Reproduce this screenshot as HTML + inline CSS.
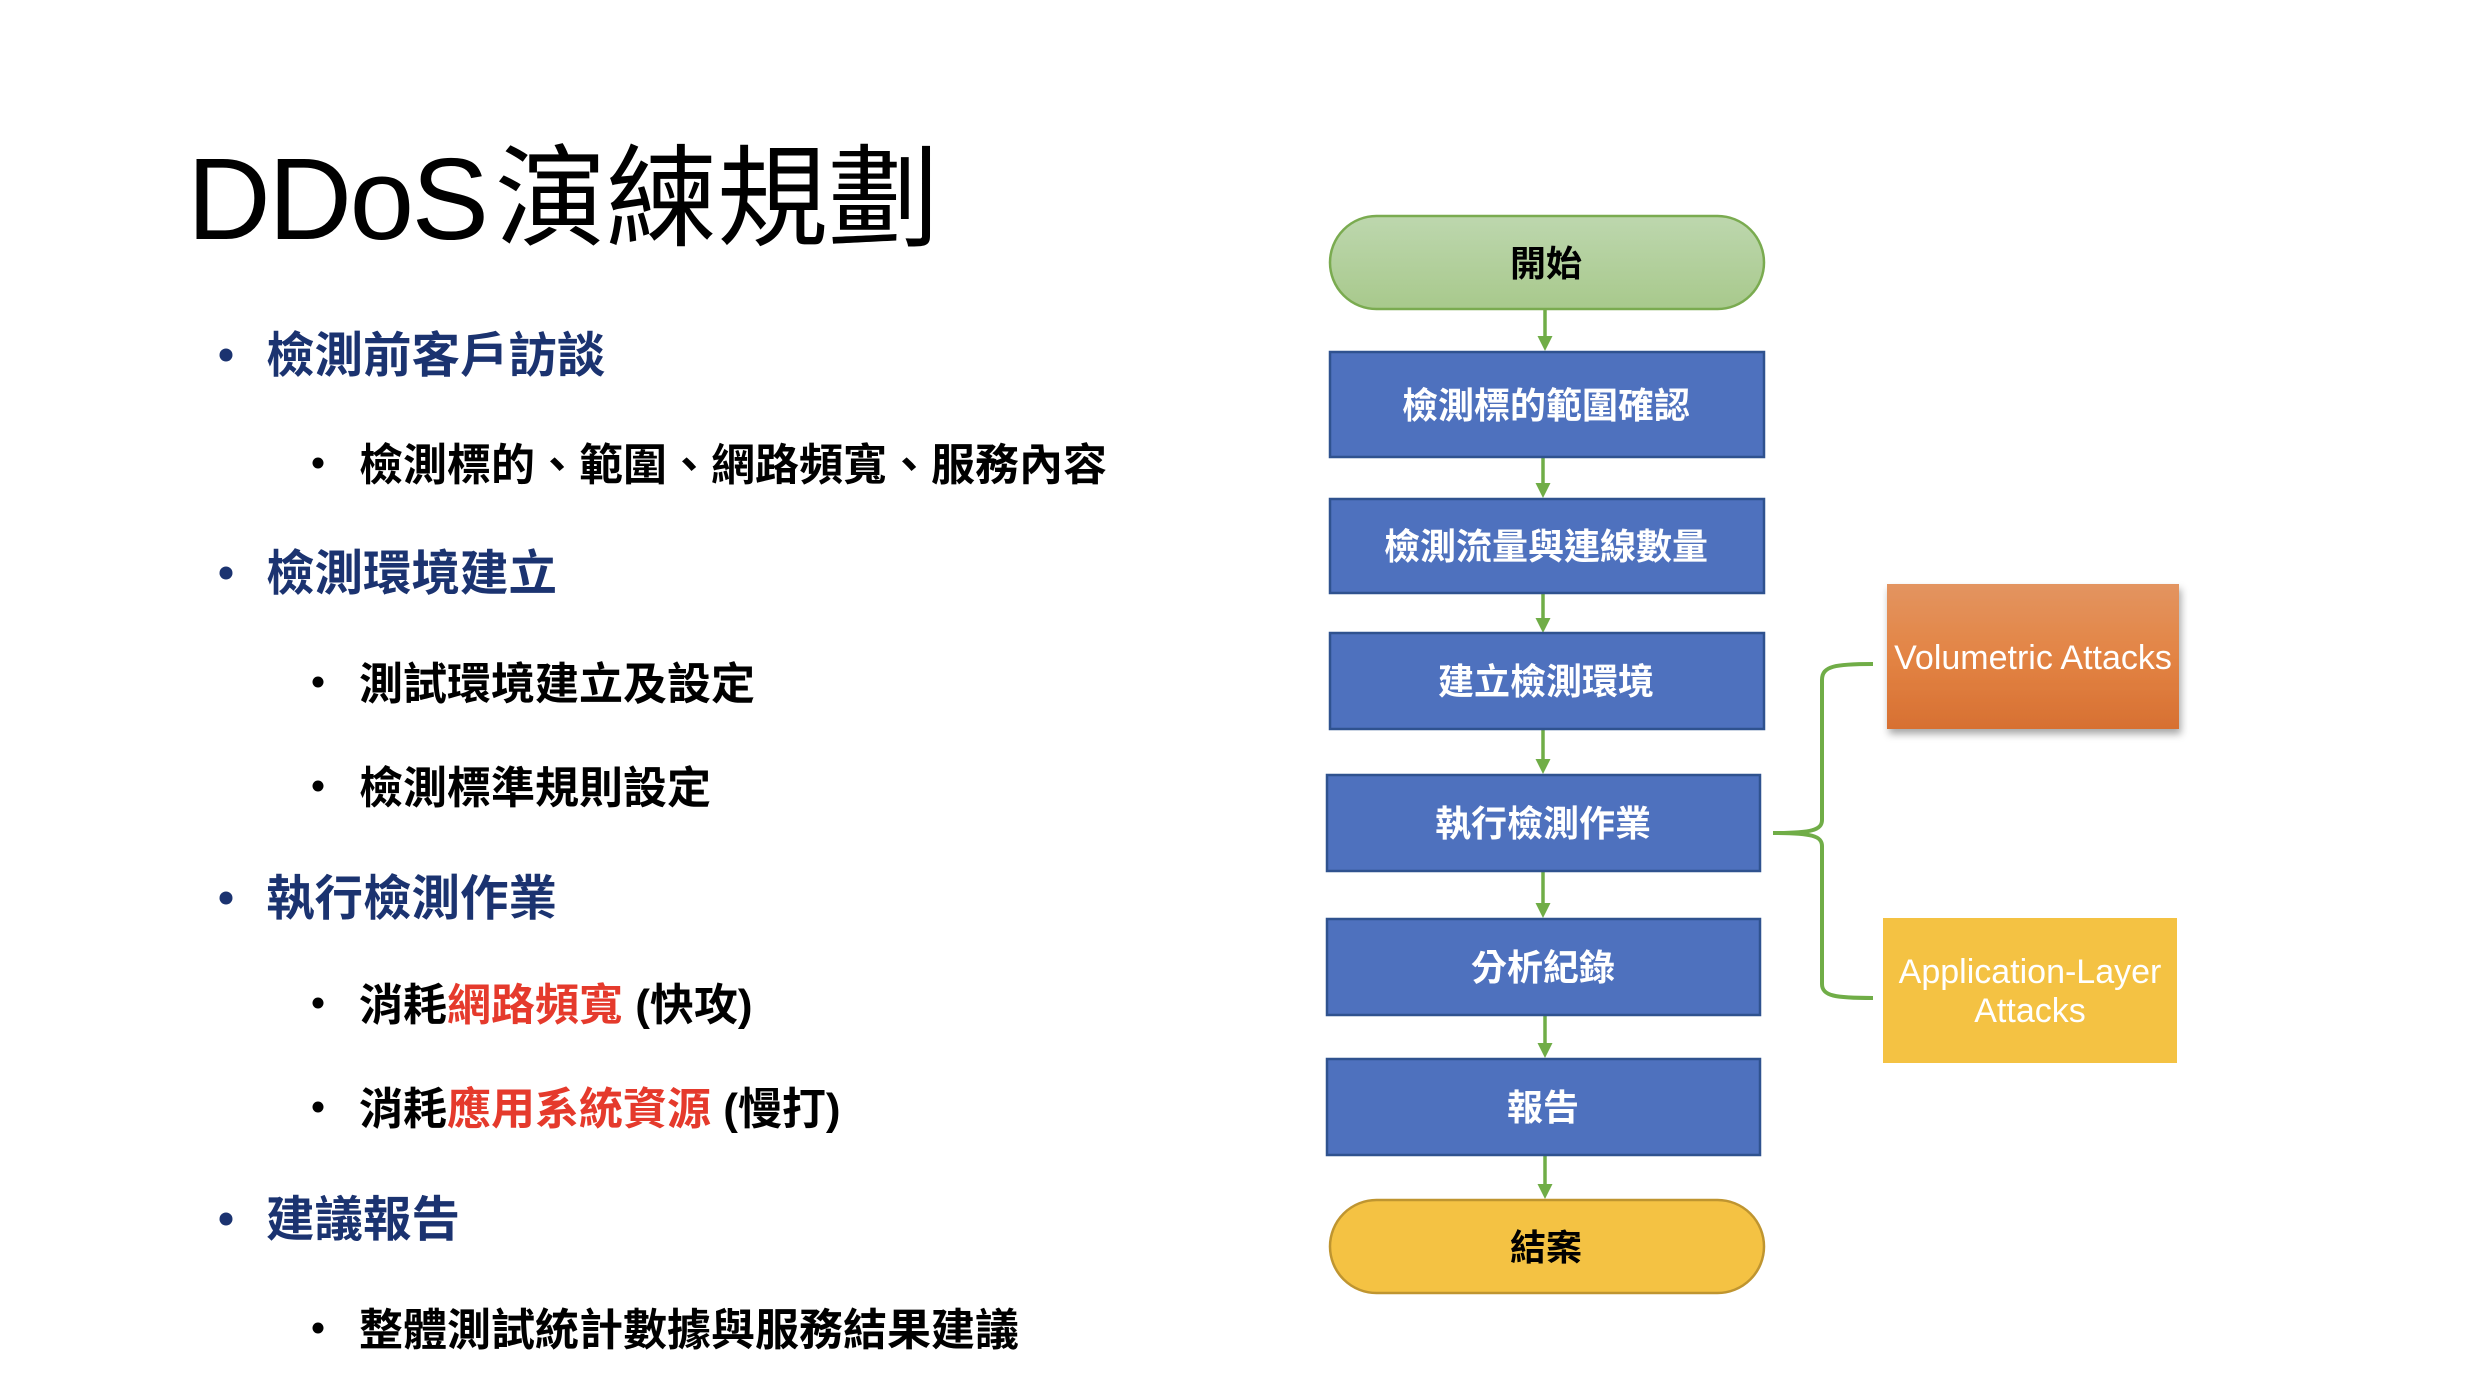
<!DOCTYPE html>
<html>
<head>
<meta charset="utf-8">
<style>
html,body{margin:0;padding:0;background:#fff;}
svg{display:block;}
.t{font-family:"Liberation Sans","Noto Sans CJK TC",sans-serif;}
</style>
</head>
<body>
<svg width="2468" height="1386" viewBox="0 0 2468 1386" xmlns="http://www.w3.org/2000/svg">
<defs>
<linearGradient id="gG" x1="0" y1="0" x2="0" y2="1">
<stop offset="0" stop-color="#BDD7AE"/>
<stop offset="1" stop-color="#A8C98C"/>
</linearGradient>
<linearGradient id="gO" x1="0" y1="0" x2="0" y2="1">
<stop offset="0" stop-color="#E39460"/>
<stop offset="0.5" stop-color="#E38444"/>
<stop offset="1" stop-color="#D77032"/>
</linearGradient>
<filter id="sh" x="-10%" y="-10%" width="130%" height="130%">
<feDropShadow dx="2" dy="5" stdDeviation="4" flood-color="#000" flood-opacity="0.35"/>
</filter>
</defs>

<rect width="2468" height="1386" fill="#fff"/>

<!-- Title -->
<text class="t" x="187" y="239" font-size="116" fill="#000" textLength="302" lengthAdjust="spacing">DDoS</text>
<text class="t" x="495" y="237" font-size="111" fill="#000">演練規劃</text>

<!-- Bullets level 1 -->
<g fill="#1B3370">
<circle cx="226" cy="355" r="6.5"/>
<circle cx="226" cy="573" r="6.5"/>
<circle cx="226" cy="898" r="6.5"/>
<circle cx="226" cy="1219" r="6.5"/>
</g>
<g class="t" font-size="48.5" font-weight="700" fill="#1B3370">
<text x="266" y="372">檢測前客戶訪談</text>
<text x="266" y="590">檢測環境建立</text>
<text x="266" y="915">執行檢測作業</text>
<text x="266" y="1236">建議報告</text>
</g>

<!-- Bullets level 2 -->
<g fill="#000">
<circle cx="318" cy="463" r="5.5"/>
<circle cx="318" cy="682" r="5.5"/>
<circle cx="318" cy="786" r="5.5"/>
<circle cx="318" cy="1003" r="5.5"/>
<circle cx="318" cy="1107" r="5.5"/>
<circle cx="318" cy="1328" r="5.5"/>
</g>
<g class="t" font-size="44" font-weight="700" fill="#000">
<text x="359" y="480">檢測標的、範圍、網路頻寬、服務內容</text>
<text x="359" y="699">測試環境建立及設定</text>
<text x="359" y="803">檢測標準規則設定</text>
<text x="359" y="1020">消耗<tspan fill="#E53A2C">網路頻寬</tspan> (快攻)</text>
<text x="359" y="1124">消耗<tspan fill="#E53A2C">應用系統資源</tspan> (慢打)</text>
<text x="359" y="1345">整體測試統計數據與服務結果建議</text>
</g>

<!-- Flowchart arrows -->
<g stroke="#70AD47" stroke-width="3.5" fill="none">
<line x1="1545" y1="309" x2="1545" y2="338"/>
<line x1="1543" y1="457" x2="1543" y2="485"/>
<line x1="1543" y1="593" x2="1543" y2="620"/>
<line x1="1543" y1="729" x2="1543" y2="761"/>
<line x1="1543" y1="871" x2="1543" y2="905"/>
<line x1="1545" y1="1015" x2="1545" y2="1045"/>
<line x1="1545" y1="1155" x2="1545" y2="1186"/>
</g>
<g fill="#70AD47">
<polygon points="1537.5,336 1552.5,336 1545,351"/>
<polygon points="1535.5,483 1550.5,483 1543,498"/>
<polygon points="1535.5,618 1550.5,618 1543,633"/>
<polygon points="1535.5,759 1550.5,759 1543,774"/>
<polygon points="1535.5,903 1550.5,903 1543,918"/>
<polygon points="1537.5,1043 1552.5,1043 1545,1058"/>
<polygon points="1537.5,1184 1552.5,1184 1545,1199"/>
</g>

<!-- Start pill -->
<rect x="1330" y="216" width="434" height="93" rx="46.5" ry="46.5" fill="url(#gG)" stroke="#7AAB50" stroke-width="2.5"/>
<text class="t" x="1546" y="276" font-size="36" font-weight="700" fill="#000" text-anchor="middle">開始</text>

<!-- Process boxes -->
<g fill="#4E71BE" stroke="#2F528F" stroke-width="2.5">
<rect x="1330" y="352" width="434" height="105"/>
<rect x="1330" y="499" width="434" height="94"/>
<rect x="1330" y="633" width="434" height="96"/>
<rect x="1327" y="775" width="433" height="96"/>
<rect x="1327" y="919" width="433" height="96"/>
<rect x="1327" y="1059" width="433" height="96"/>
</g>
<g class="t" font-size="36" font-weight="700" fill="#fff" text-anchor="middle">
<text x="1546" y="418">檢測標的範圍確認</text>
<text x="1546" y="559">檢測流量與連線數量</text>
<text x="1546" y="694">建立檢測環境</text>
<text x="1543" y="836">執行檢測作業</text>
<text x="1543" y="980">分析紀錄</text>
<text x="1543" y="1120">報告</text>
</g>

<!-- End pill -->
<rect x="1330" y="1200" width="434" height="93" rx="46.5" ry="46.5" fill="#F4C243" stroke="#BF9530" stroke-width="2.5"/>
<text class="t" x="1546" y="1260" font-size="36" font-weight="700" fill="#000" text-anchor="middle">結案</text>

<!-- Brace -->
<path d="M1873,664 C1835,664 1822,666 1822,680 L1822,820 C1822,830 1812,833 1773,833 C1812,833 1822,836 1822,846 L1822,984 C1822,996 1835,998 1873,998" fill="none" stroke="#70AD47" stroke-width="4"/>

<!-- Volumetric Attacks -->
<rect x="1887" y="584" width="292" height="145" fill="url(#gO)" filter="url(#sh)"/>
<text class="t" x="2033" y="669" font-size="34" fill="#fff" text-anchor="middle">Volumetric Attacks</text>

<!-- Application-Layer Attacks -->
<rect x="1883" y="918" width="294" height="145" fill="#F4C243"/>
<g class="t" font-size="34" fill="#fff" text-anchor="middle">
<text x="2030" y="983">Application-Layer</text>
<text x="2030" y="1022">Attacks</text>
</g>
</svg>
</body>
</html>
